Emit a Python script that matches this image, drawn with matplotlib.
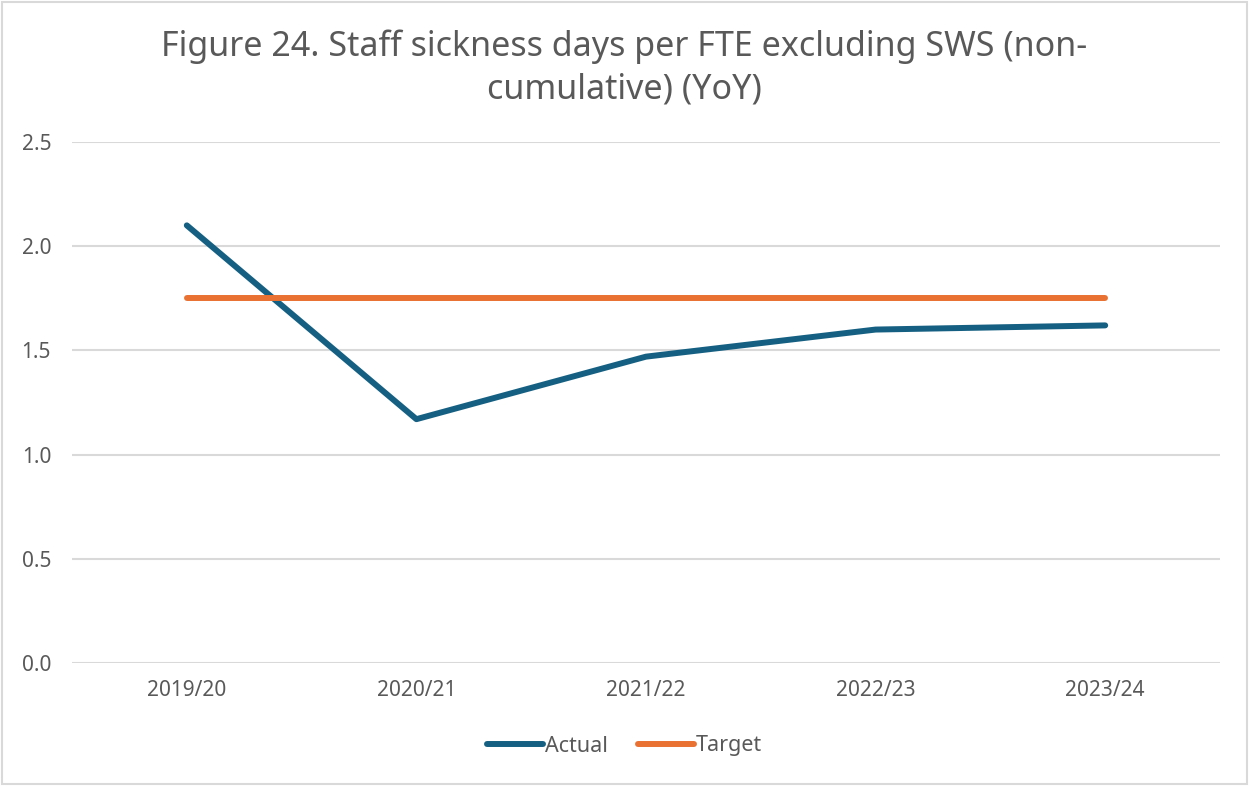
import matplotlib.pyplot as plt
from matplotlib.patches import Rectangle

plt.rcParams['font.family'] = ['Noto Sans', 'DejaVu Sans']

# chart data
years = ["2019/20", "2020/21", "2021/22", "2022/23", "2023/24"]
actual = [2.10, 1.17, 1.47, 1.60, 1.62]
target = [1.75, 1.75, 1.75, 1.75, 1.75]
y_ticks = [0.0, 0.5, 1.0, 1.5, 2.0, 2.5]

text_grey = "#595959"
grid_grey = "#D9D9D9"

fig = plt.figure(figsize=(12.49, 7.87), dpi=100)
ax = fig.add_axes([72 / 1249, 1 - 663 / 787, (1220 - 72) / 1249, (663 - 142) / 787])

x = list(range(len(years)))
ax.plot(x, actual, color="#156082", linewidth=4.3, solid_capstyle="round", label="Actual")
ax.plot(x, target, color="#E97132", linewidth=4.3, solid_capstyle="round", label="Target")

ax.set_xlim(-0.5, len(years) - 0.5)
ax.set_ylim(0, 2.5)
ax.set_yticks(y_ticks)
ax.set_yticklabels(["{:.1f}".format(v) for v in y_ticks])
ax.set_xticks(x)
ax.set_xticklabels(years)

ax.grid(axis="y", color=grid_grey, linewidth=1.5)
ax.set_axisbelow(True)
for side in ["top", "right", "left", "bottom"]:
    ax.spines[side].set_visible(False)
ax.tick_params(length=0, labelsize=15, labelcolor=text_grey)
ax.tick_params(axis="y", pad=15)
ax.tick_params(axis="x", pad=12)

fig.text(0.5, 1 - 47 / 787, "Figure 24. Staff sickness days per FTE excluding SWS (non-",
         ha="center", va="center", fontsize=24.5, color=text_grey)
fig.text(0.5, 1 - 90 / 787, "cumulative) (YoY)",
         ha="center", va="center", fontsize=24.5, color=text_grey)

leg = fig.legend(loc="center", bbox_to_anchor=(0.5, 1 - 746 / 787), ncol=2, frameon=False,
                 fontsize=15.5, handlelength=2.6, handletextpad=0.1, columnspacing=1.4)
for t in leg.get_texts():
    t.set_color(text_grey)

fig.patches.append(Rectangle((0.002, 0.004), 0.996, 0.993, transform=fig.transFigure,
                             fill=False, edgecolor=grid_grey, linewidth=1.5))

fig.savefig("out.png", dpi=100)
